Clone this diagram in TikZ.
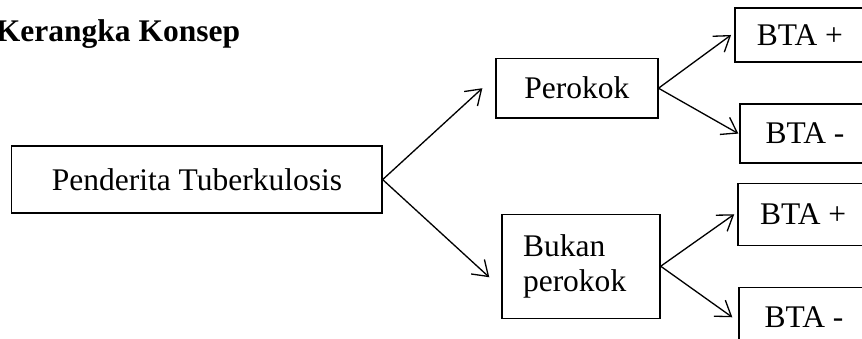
\documentclass[tikz,border=0pt]{standalone}
\usepackage{fontspec}
\setmainfont{Liberation Serif}
\usepackage{tikz}
\usetikzlibrary{arrows.meta, positioning}
\tikzset{
    boxnode/.style = {draw, rectangle, inner sep = 0em, node distance=0em, line width=0.5pt,
      align=center},
    textnode/.style  = {draw=none, fill=none, rectangle, minimum size=0cm, inner sep = 0em,
      node distance=0em},
    connect/.style = {black, line width=0.5pt, -{Straight Barb[length=5.5pt, width=7.5pt]}}
}

\begin{document}
\fontsize{12pt}{13.3pt}\selectfont
\begin{tikzpicture}
    \clip (-6.25em,-5.03em) rectangle (21.11em,5.7em);

    \node [name=main, boxnode, minimum width=11.75em, minimum height=2.13em] at (0,0)
        {Penderita Tuberkulosis};

    \node [name=title, textnode, anchor=base west, font=\bfseries]
        at ([xshift=-0.5em, yshift=4.37em]main.west) {Kerangka Konsep};

    \node [name=perokok, boxnode, minimum width=5.14em, minimum height=1.9em,
        right of = main, xshift=12.06em, yshift=2.9em] {Perokok};
    \node [name=bukan, boxnode, minimum width=5.02em, minimum height=3.3em,
        text width=3.68em, align=left,
        right of = main, xshift=12.19em, yshift=-2.75em] {Bukan\\perokok};

    \node [name=bta1, boxnode, minimum width=4.13em, minimum height=1.71em,
        right of = main, xshift=19.14em, yshift=4.59em] {BTA +};
    \node [name=bta2, boxnode, minimum width=4.13em, minimum height=1.87em,
        right of = main, xshift=19.3em, yshift=1.46em] {BTA -};
    \node [name=bta3, boxnode, minimum width=4.13em, minimum height=1.97em,
        right of = main, xshift=19.24em, yshift=-1.1em] {BTA +};
    \node [name=bta4, boxnode, minimum width=4.13em, minimum height=1.9em,
        right of = main, xshift=19.27em, yshift=-4.37em] {BTA -};

    \draw [connect] (main.east) -- ([xshift=-0.41em]perokok.west);
    \draw [connect] (main.east) -- ([xshift=-0.38em, yshift=-0.35em]bukan.west);
    \draw [connect] (perokok.east) -- ([xshift=-0.1em]bta1.west);
    \draw [connect] (perokok.east) -- ([xshift=-0.03em]bta2.west);
    \draw [connect] (bukan.east) -- ([xshift=-0.1em]bta3.west);
    \draw [connect] (bukan.east) -- ([xshift=-0.19em]bta4.west);
\end{tikzpicture}
\end{document}
